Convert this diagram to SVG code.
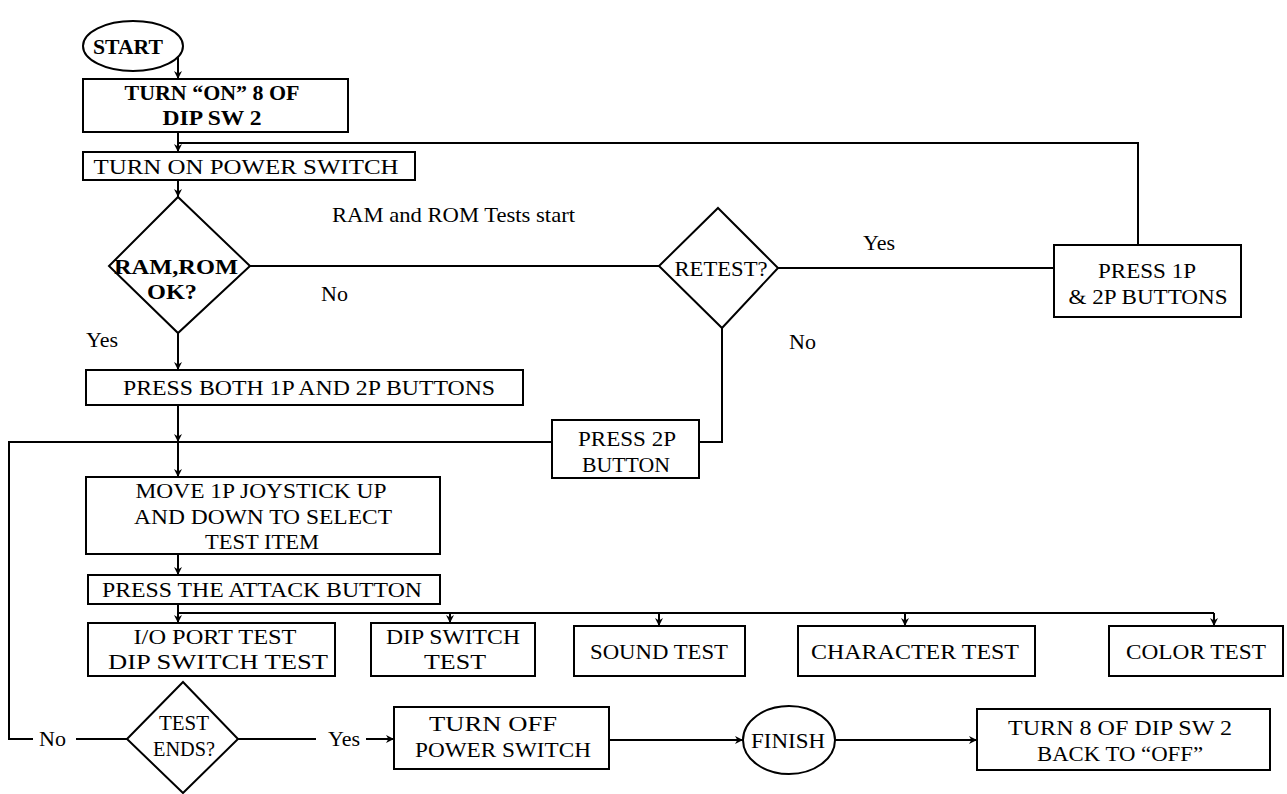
<svg xmlns="http://www.w3.org/2000/svg" width="1287" height="794" viewBox="0 0 1287 794">
<defs>
<marker id="ah" viewBox="0 0 10 10" refX="10" refY="5" markerWidth="8" markerHeight="8" orient="auto" markerUnits="userSpaceOnUse">
<path d="M0,0 L10,5 L0,10 L3,5 z" fill="#000"/>
</marker>
</defs>
<style>
.s{fill:#fff;stroke:#000;stroke-width:2}
.c{fill:none;stroke:#000;stroke-width:2}
.t{font-family:"Liberation Serif","Times New Roman",serif;font-size:22px;fill:#000;text-anchor:middle}
.b{font-weight:bold}
.l{font-family:"Liberation Serif","Times New Roman",serif;font-size:22px;fill:#000}
</style>
<rect width="1287" height="794" fill="#fff"/>
<g id="connectors">
<path class="c" d="M178,57 V79" marker-end="url(#ah)"/>
<path class="c" d="M178,132 V152" marker-end="url(#ah)"/>
<path class="c" d="M1138,245 V143 H178"/>
<path class="c" d="M178,180 V197" marker-end="url(#ah)"/>
<path class="c" d="M250,266 H659"/>
<path class="c" d="M778,268 H1054"/>
<path class="c" d="M722,328 V442 H699"/>
<path class="c" d="M552,442 H9 V739 H33"/>
<path class="c" d="M76,739 H127"/>
<path class="c" d="M178,333 V370" marker-end="url(#ah)"/>
<path class="c" d="M178,405 V442" marker-end="url(#ah)"/>
<path class="c" d="M178,442 V477" marker-end="url(#ah)"/>
<path class="c" d="M178,554 V575" marker-end="url(#ah)"/>
<path class="c" d="M178,604 V623" marker-end="url(#ah)"/>
<path class="c" d="M178,613 H1214"/>
<path class="c" d="M450,613 V623" marker-end="url(#ah)"/>
<path class="c" d="M659,613 V626" marker-end="url(#ah)"/>
<path class="c" d="M905,613 V626" marker-end="url(#ah)"/>
<path class="c" d="M1214,613 V626" marker-end="url(#ah)"/>
<path class="c" d="M238,739 H316"/>
<path class="c" d="M366,739 H394" marker-end="url(#ah)"/>
<path class="c" d="M609,740 H743" marker-end="url(#ah)"/>
<path class="c" d="M835,740 H977" marker-end="url(#ah)"/>
<text class="l" x="332" y="222" textLength="243" lengthAdjust="spacingAndGlyphs">RAM and ROM Tests start</text>
<text class="l" x="321" y="301">No</text>
<text class="l" x="86" y="347">Yes</text>
<text class="l" x="863" y="250">Yes</text>
<text class="l" x="789" y="349">No</text>
<text class="l" x="39" y="746">No</text>
<text class="l" x="328" y="746">Yes</text>
</g>
<g id="start">
<ellipse class="s" cx="133" cy="46" rx="50" ry="25"/>
<text class="t b" x="128" y="54" textLength="70" lengthAdjust="spacingAndGlyphs">START</text>
</g>
<g id="dip-on">
<rect class="s" x="83" y="79" width="265" height="53"/>
<text class="t b" x="212" y="100" font-size="21" textLength="175" lengthAdjust="spacingAndGlyphs">TURN “ON” 8 OF</text>
<text class="t b" x="212" y="125" font-size="21" textLength="99" lengthAdjust="spacingAndGlyphs">DIP SW 2</text>
</g>
<g id="power-on">
<rect class="s" x="83" y="152" width="332" height="28"/>
<text class="t" x="246" y="174" textLength="305" lengthAdjust="spacingAndGlyphs">TURN ON POWER SWITCH</text>
</g>
<g id="ramrom">
<polygon class="s" points="178,197 250,266 178,333 109,266"/>
<text class="t b" x="176" y="274" font-size="21" textLength="124" lengthAdjust="spacingAndGlyphs">RAM,ROM</text>
<text class="t b" x="172" y="299" font-size="21" textLength="50" lengthAdjust="spacingAndGlyphs">OK?</text>
</g>
<g id="retest">
<polygon class="s" points="718,208 778,268 722,328 659,266"/>
<text class="t" x="721" y="276" font-size="21" textLength="93" lengthAdjust="spacingAndGlyphs">RETEST?</text>
</g>
<g id="press-1p2p">
<rect class="s" x="1054" y="245" width="187" height="72"/>
<text class="t" x="1147" y="278" textLength="98" lengthAdjust="spacingAndGlyphs">PRESS 1P</text>
<text class="t" x="1148" y="304" textLength="159" lengthAdjust="spacingAndGlyphs">&amp; 2P BUTTONS</text>
</g>
<g id="press-both">
<rect class="s" x="86" y="370" width="437" height="35"/>
<text class="t" x="309" y="395" textLength="372" lengthAdjust="spacingAndGlyphs">PRESS BOTH 1P AND 2P BUTTONS</text>
</g>
<g id="press-2p">
<rect class="s" x="552" y="420" width="147" height="58"/>
<text class="t" x="627" y="446" textLength="98" lengthAdjust="spacingAndGlyphs">PRESS 2P</text>
<text class="t" x="626" y="472" textLength="88" lengthAdjust="spacingAndGlyphs">BUTTON</text>
</g>
<g id="move-joystick">
<rect class="s" x="86" y="477" width="354" height="77"/>
<text class="t" x="261" y="498" textLength="251" lengthAdjust="spacingAndGlyphs">MOVE 1P JOYSTICK UP</text>
<text class="t" x="263" y="524" textLength="258" lengthAdjust="spacingAndGlyphs">AND DOWN TO SELECT</text>
<text class="t" x="262" y="549" textLength="114" lengthAdjust="spacingAndGlyphs">TEST ITEM</text>
</g>
<g id="attack">
<rect class="s" x="88" y="575" width="352" height="29"/>
<text class="t" x="262" y="597" textLength="320" lengthAdjust="spacingAndGlyphs">PRESS THE ATTACK BUTTON</text>
</g>
<g id="io-test">
<rect class="s" x="88" y="623" width="247" height="53"/>
<text class="t" x="215" y="644" textLength="163" lengthAdjust="spacingAndGlyphs">I/O PORT TEST</text>
<text class="t" x="218" y="669" textLength="220" lengthAdjust="spacingAndGlyphs">DIP SWITCH TEST</text>
</g>
<g id="dip-test">
<rect class="s" x="371" y="623" width="164" height="53"/>
<text class="t" x="453" y="644" textLength="134" lengthAdjust="spacingAndGlyphs">DIP SWITCH</text>
<text class="t" x="455" y="669" textLength="62" lengthAdjust="spacingAndGlyphs">TEST</text>
</g>
<g id="sound-test">
<rect class="s" x="574" y="626" width="171" height="50"/>
<text class="t" x="659" y="659" textLength="138" lengthAdjust="spacingAndGlyphs">SOUND TEST</text>
</g>
<g id="char-test">
<rect class="s" x="798" y="626" width="237" height="50"/>
<text class="t" x="915" y="659" textLength="208" lengthAdjust="spacingAndGlyphs">CHARACTER TEST</text>
</g>
<g id="color-test">
<rect class="s" x="1109" y="626" width="174" height="50"/>
<text class="t" x="1196" y="659" textLength="140" lengthAdjust="spacingAndGlyphs">COLOR TEST</text>
</g>
<g id="test-ends">
<polygon class="s" points="183,682 238,739 183,793 127,739"/>
<text class="t" x="184" y="730" font-size="20" textLength="50" lengthAdjust="spacingAndGlyphs">TEST</text>
<text class="t" x="184" y="756" font-size="20" textLength="62" lengthAdjust="spacingAndGlyphs">ENDS?</text>
</g>
<g id="power-off">
<rect class="s" x="394" y="707" width="215" height="62"/>
<text class="t" x="493" y="731" textLength="128" lengthAdjust="spacingAndGlyphs">TURN OFF</text>
<text class="t" x="503" y="757" textLength="176" lengthAdjust="spacingAndGlyphs">POWER SWITCH</text>
</g>
<g id="finish">
<ellipse class="s" cx="789" cy="740" rx="46" ry="34"/>
<text class="t" x="788" y="748" textLength="74" lengthAdjust="spacingAndGlyphs">FINISH</text>
</g>
<g id="dip-off">
<rect class="s" x="977" y="709" width="293" height="61"/>
<text class="t" x="1120" y="735" textLength="224" lengthAdjust="spacingAndGlyphs">TURN 8 OF DIP SW 2</text>
<text class="t" x="1120" y="761" textLength="166" lengthAdjust="spacingAndGlyphs">BACK TO “OFF”</text>
</g>
</svg>
